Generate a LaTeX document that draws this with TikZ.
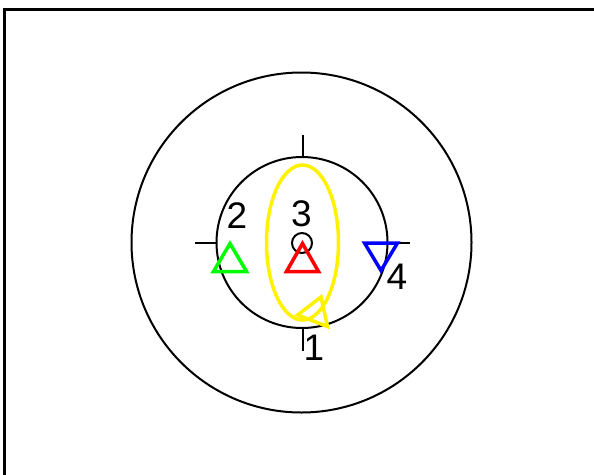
\documentclass[tikz,border=0pt]{standalone}
\usepackage{fontspec}
\setmainfont{Liberation Sans}
\begin{document}
\begin{tikzpicture}[x=1pt,y=-1pt,
  blk/.style={draw=black,line width=2pt},
  mark3/.style={line width=3.5pt,line join=miter},
  lbl/.style={font=\fontsize{37}{37}\selectfont,inner sep=0pt}]
\useasboundingbox (0,0) rectangle (594,474);
\fill[white] (0,0) rectangle (594,474);
% frame
\draw[line width=3pt] (4,480) -- (4,9.5) -- (600,9.5);
% circles
\draw[blk] (301.5,242.5) circle[radius=170];
\draw[blk] (302,242.5) circle[radius=85.5];
\draw[blk] (302,243) circle[radius=10];
% ticks
\draw[blk] (302.5,135) -- (302.5,157);
\draw[blk] (302.5,328) -- (302.5,351);
\draw[blk] (195,243) -- (217,243);
\draw[blk] (388,243) -- (410,243);
% yellow ellipse
\draw[mark3,yellow] (302.5,242.5) ellipse[x radius=36,y radius=77.5];
% triangles
\draw[mark3,green] (230,243.5) -- (213.5,271.5) -- (246.5,271.5) -- cycle;
\draw[mark3,red] (302.5,243.5) -- (286.5,271.5) -- (318.5,271.5) -- cycle;
\draw[mark3,blue] (364.5,243) -- (397.5,243) -- (381,270.5) -- cycle;
\draw[mark3,yellow] (321,297) -- (297.5,315) -- (327.5,326.5) -- cycle;
% labels
\node[lbl] (l3) at (301.5,214) {3};
\node[lbl] (l2) at (237,216) {2};
\node[lbl] (l4) at (397,277) {4};
\node[lbl] (l1) at (314,348) {1};
\end{tikzpicture}
\end{document}
